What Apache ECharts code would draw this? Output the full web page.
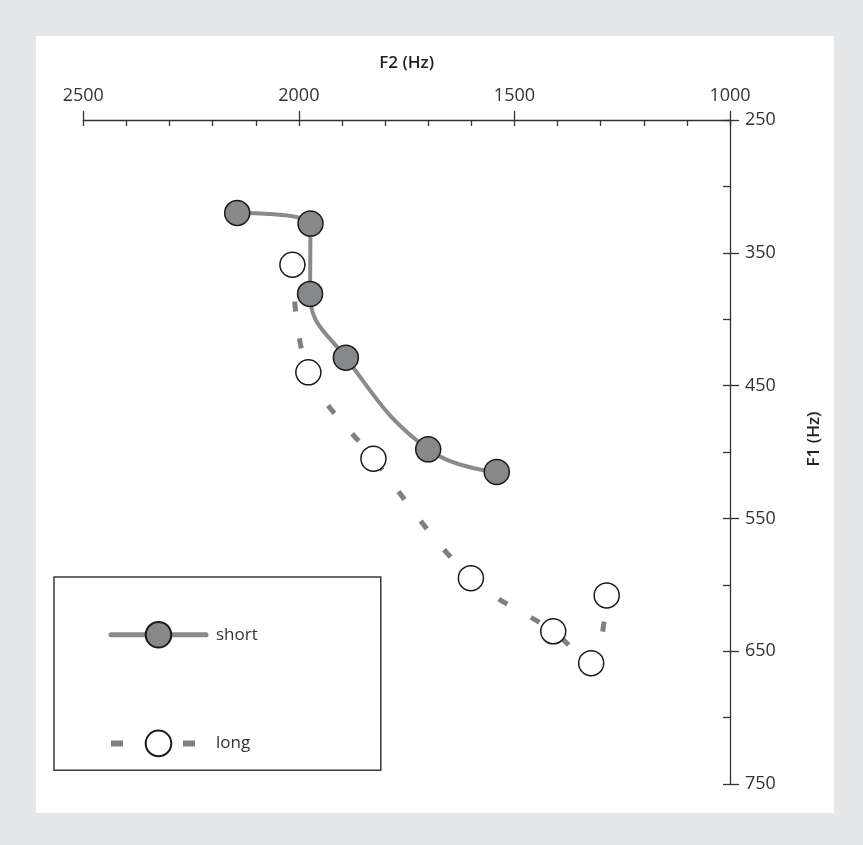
<!DOCTYPE html>
<html>
<head>
<meta charset="utf-8">
<script src="https://cdn.jsdelivr.net/npm/echarts@6/dist/echarts.min.js"></script>
<style>
  html, body { margin: 0; padding: 0; background: #e6e7e8; }
  #chart { width: 863px; height: 845px; }
</style>
</head>
<body>
<div id="chart"></div>
<script>
// ---- data (F2 Hz, F1 Hz) ----
const seriesNames = ['short', 'long'];
const shortF2 = [2143, 1973, 1974, 1891, 1700, 1541];
const shortF1 = [320, 328, 381, 429, 498, 515];
const longF2 = [2015, 1978, 1827, 1601, 1410, 1322, 1286];
const longF1 = [359, 440, 505, 595, 635, 659, 608];
const f2Range = [1000, 2500];
const f1Range = [250, 750];
const axisNames = ['F2 (Hz)', 'F1 (Hz)'];

const shortData = shortF2.map((v, i) => [v, shortF1[i]]);
const longData = longF2.map((v, i) => [v, longF1[i]]);

const FONT = 'Open Sans';
const chart = echarts.init(document.getElementById('chart'), null, { renderer: 'canvas' });

const xBase = {
  type: 'value', position: 'top', inverse: true,
  min: f2Range[0], max: f2Range[1], interval: 500,
  splitLine: { show: false }, gridIndex: 0
};
const yBase = {
  type: 'value', position: 'right', inverse: true,
  min: f1Range[0], max: f1Range[1], interval: 100,
  splitLine: { show: false }, gridIndex: 0
};
const plain = v => String(v);

chart.setOption({
  backgroundColor: '#e6e7e8',
  animation: false,
  graphic: [{
    type: 'rect', z: -10, silent: true,
    shape: { x: 36, y: 36, width: 798, height: 777 },
    style: { fill: '#ffffff' }
  }],
  grid: { left: 83.3, right: 133, top: 120, bottom: 61, containLabel: false },
  xAxis: [
    Object.assign({}, xBase, {
      name: axisNames[0], nameLocation: 'middle', nameGap: 48,
      nameTextStyle: { fontFamily: FONT, fontSize: 17, fontWeight: 600, color: '#222' },
      axisLine: { show: true, lineStyle: { color: '#333', width: 1.3 } },
      axisTick: { show: true, inside: true, length: 6, lineStyle: { color: '#333', width: 1.3 } },
      minorTick: { show: true, splitNumber: 5, length: 6, lineStyle: { color: '#333', width: 1.3 } },
      axisLabel: { show: true, margin: 15, fontFamily: FONT, fontSize: 18, color: '#333', formatter: plain }
    }),
    Object.assign({}, xBase, {
      axisLine: { show: false },
      axisTick: { show: true, inside: false, length: 9, lineStyle: { color: '#333', width: 1.3 } },
      minorTick: { show: false },
      axisLabel: { show: false }
    })
  ],
  yAxis: [
    Object.assign({}, yBase, {
      name: axisNames[1], nameLocation: 'middle', nameGap: 76,
      nameTextStyle: { fontFamily: FONT, fontSize: 17, fontWeight: 600, color: '#222', padding: [0, 0, 0, 26] },
      axisLine: { show: true, lineStyle: { color: '#333', width: 1.3 } },
      axisTick: { show: true, inside: true, length: 7, lineStyle: { color: '#333', width: 1.3 } },
      minorTick: { show: true, splitNumber: 2, length: 7, lineStyle: { color: '#333', width: 1.3 } },
      axisLabel: { show: true, margin: 15, fontFamily: FONT, fontSize: 18, color: '#333', formatter: plain }
    }),
    Object.assign({}, yBase, {
      axisLine: { show: false },
      axisTick: { show: true, inside: false, length: 9, lineStyle: { color: '#333', width: 1.3 } },
      minorTick: { show: false },
      axisLabel: { show: false }
    })
  ],
  legend: {
    orient: 'vertical',
    left: 54, top: 577,
    padding: [44, 123, 13, 54],
    itemWidth: 95, itemHeight: 32, itemGap: 81,
    borderColor: '#3a3a3a', borderWidth: 1.5, borderRadius: 0,
    backgroundColor: '#ffffff',
    textStyle: { fontFamily: FONT, fontSize: 17, color: '#333', padding: [0, 0, 0, 5] },
    selectedMode: false,
    data: [
      { name: seriesNames[0], lineStyle: { cap: 'round', width: 5, color: '#8a8a8a', type: 'solid' } },
      { name: seriesNames[1], lineStyle: { type: [12, 60], dashOffset: 72, width: 6, color: '#808080' } }
    ]
  },
  series: [
    {
      name: seriesNames[1], type: 'line', xAxisIndex: 0, yAxisIndex: 0,
      data: longData, smooth: 0.35,
      symbol: 'circle', symbolSize: 25,
      lineStyle: { color: '#808080', width: 5, type: [10, 27], cap: 'butt' },
      itemStyle: { color: '#ffffff', borderColor: '#1a1a1a', borderWidth: 1.5 },
      z: 2
    },
    {
      name: seriesNames[0], type: 'line', xAxisIndex: 0, yAxisIndex: 0,
      data: shortData, smooth: 0.45,
      symbol: 'circle', symbolSize: 25,
      lineStyle: { color: '#8a8a8a', width: 4, cap: 'round' },
      itemStyle: { color: '#87888a', borderColor: '#1a1a1a', borderWidth: 1.5 },
      z: 3
    }
  ]
});
</script>
</body>
</html>
